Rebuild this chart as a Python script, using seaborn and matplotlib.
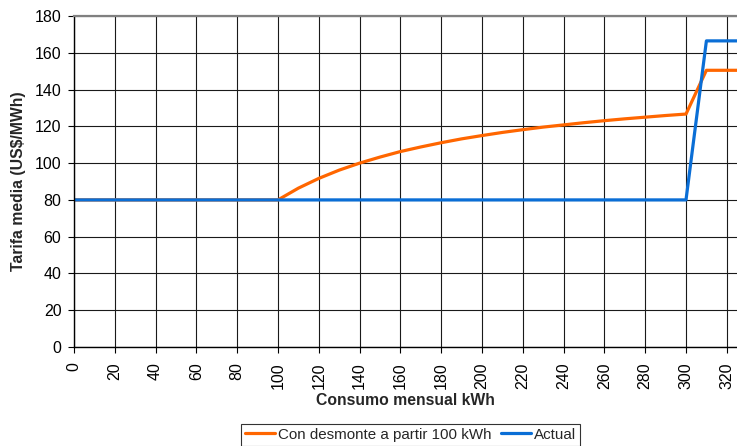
import matplotlib
matplotlib.use("Agg")
import matplotlib.pyplot as plt
import seaborn as sns
import pandas as pd

# Monthly consumption (kWh) and average tariff (US$/MWh)
x_desmonte = [0, 100, 110, 120, 130, 140, 150, 160, 170, 180, 190, 200, 210, 220,
              230, 240, 250, 260, 270, 280, 290, 300, 310, 325]
y_desmonte = [80, 80, 86.4, 91.7, 96.2, 100, 103.3, 106.3, 108.8, 111.1, 113.2, 115,
              116.7, 118.2, 119.6, 120.8, 122, 123.1, 124.1, 125, 125.9, 126.7, 150.5, 150.5]

x_actual = [0, 300, 310, 325]
y_actual = [80, 80, 166.5, 166.5]

series_names = ["Con desmonte a partir 100 kWh", "Actual"]
series_colors = ["#FF6600", "#0A6ED6"]

x_ticks = list(range(0, 321, 20))
y_ticks = list(range(0, 181, 20))

df = pd.concat([
    pd.DataFrame({"kwh": x_desmonte, "tarifa": y_desmonte, "serie": series_names[0]}),
    pd.DataFrame({"kwh": x_actual, "tarifa": y_actual, "serie": series_names[1]}),
])

sns.set_theme(style="white")
plt.rcParams["font.family"] = ["Liberation Sans", "DejaVu Sans"]

fig = plt.figure(figsize=(7.37, 4.46), dpi=100)
ax = fig.add_axes([0.1004, 0.222, 0.8996, 0.742])

sns.lineplot(data=df, x="kwh", y="tarifa", hue="serie", hue_order=series_names,
             palette=series_colors, linewidth=2.3, ax=ax, legend=False,
             sort=False, estimator=None)

ax.set_xlim(0, 325)
ax.set_ylim(0, 180)
ax.set_xticks(x_ticks)
ax.set_yticks(y_ticks)
ax.set_xticklabels([str(t) for t in x_ticks], rotation=90)
ax.tick_params(axis="both", labelsize=11.5, colors="black", length=4, width=0.8,
               direction="out", bottom=True, left=True)
ax.tick_params(axis="x", pad=7)
ax.tick_params(axis="y", pad=5)
ax.grid(True, color="#1a1a1a", linewidth=0.8)
ax.set_axisbelow(True)

for side in ["left", "bottom"]:
    ax.spines[side].set_color("black")
    ax.spines[side].set_linewidth(1.0)
ax.spines["top"].set_color("#808080")
ax.spines["top"].set_linewidth(1.6)
ax.spines["right"].set_visible(False)

ax.set_xlabel("Consumo mensual kWh", fontsize=11.3, fontweight="bold", labelpad=3)
ax.set_ylabel("Tarifa media (US$/MWh)", fontsize=11.3, fontweight="bold", labelpad=6)

handles = [plt.Line2D([], [], color=c, linewidth=2.3) for c in series_colors]
leg = fig.legend(handles, series_names, loc="upper center", ncol=2,
                 bbox_to_anchor=(0.557, 1 - 424 / 446), fontsize=10.9,
                 frameon=True, fancybox=False, handlelength=2.0, handletextpad=0.2,
                 columnspacing=0.6, borderpad=0.25, borderaxespad=0)
leg.get_frame().set_edgecolor("black")
leg.get_frame().set_linewidth(0.8)

fig.savefig("out.png", dpi=100)
